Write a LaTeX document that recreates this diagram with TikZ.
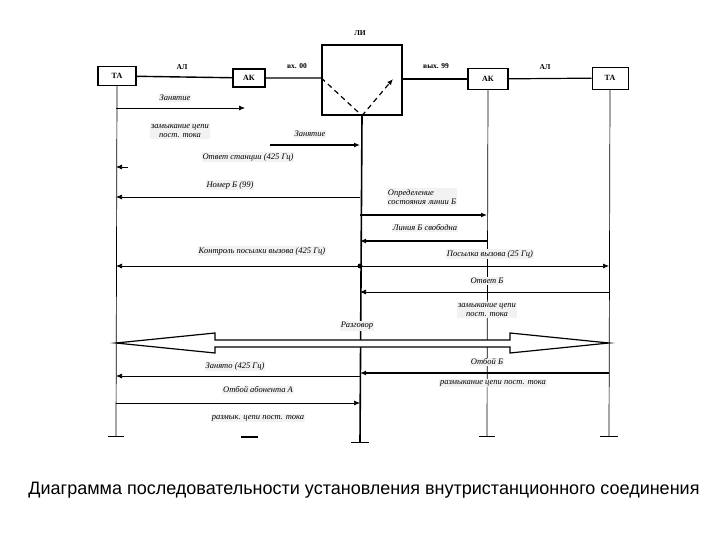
\documentclass[tikz,border=0pt]{standalone}
\usepackage{fontspec}
\setmainfont{Liberation Serif}
\newfontfamily\capfont{Liberation Sans}
\usetikzlibrary{arrows.meta}
\begin{document}
\begin{tikzpicture}[x=1pt,y=-1pt,
  box/.style={draw,line width=1.4pt,fill=white,font=\fontsize{8}{9}\selectfont\bfseries,inner sep=0pt},
  lbl/.style={font=\fontsize{8.5}{9.5}\selectfont\itshape,fill=black!5,inner sep=1pt,align=center},
  hl/.style={font=\fontsize{7.5}{9}\selectfont\bfseries,inner sep=1pt},
  msg/.style={-{Latex[length=6pt,width=5pt]},line width=0.7pt},
  tmsg/.style={-{Latex[length=6pt,width=5pt]},line width=1.6pt},
  life/.style={line width=0.7pt}]
\useasboundingbox (0,0) rectangle (720,540);
% boxes
\node[box,minimum width=38pt,minimum height=19pt] (ta1) at (117,76) {ТА};
\node[box,minimum width=32pt,minimum height=18pt] (ak1) at (249,78) {АК};
\node[box,minimum width=80pt,minimum height=70pt] (li) at (362,80) {};
\node[box,minimum width=40pt,minimum height=21pt] (ak2) at (488,79) {АК};
\node[box,minimum width=36pt,minimum height=22pt,line width=0.9pt] (ta2) at (610,78) {ТА};
\node[hl] (lil) at (360,33) {ЛИ};
\draw[line width=1.4pt] (ta1) -- (ak1) (ak1) -- (li.west|-ak1) ;
\draw[line width=1.4pt] (li.east|-ak2) -- (ak2);
\draw[line width=1.2pt] (ak2) -- (ta2);
\node[hl] (al1) at (182,67) {АЛ};
\node[hl] (in0) at (297,66) {вх. 00};
\node[hl] (out9) at (436,66) {вых. 99};
\node[hl] (al2) at (545,67) {АЛ};
% lifelines
\coordinate (b1) at (116,436); \coordinate (b3) at (360,442);
\coordinate (b4) at (487,436); \coordinate (b5) at (609,436);
\coordinate (lib) at (li.south);
\coordinate (vl) at (li.west|-ak1); \coordinate (vr) at (393,79);
\draw[dashed,line width=1.2pt,dash pattern=on 5pt off 4pt] (vl) -- (lib);
\draw[dashed,line width=1.2pt,dash pattern=on 5pt off 4pt,-{Latex[length=6pt,width=5pt]}] (lib) -- (vr);
\draw[life] (ta1.south) -- (b1);
\draw[line width=1.6pt] (lib) -- (b3);
\draw[life] (ak2.south) -- (b4);
\draw[life] (ta2.south) -- (b5);
\draw[line width=0.8pt] (108,436) -- (124,436);
\draw[line width=2pt] (241,437) -- (258,437);
\draw[line width=1pt] (351,442) -- (369,442);
\draw[line width=0.8pt] (479,436) -- (495,436);
\draw[line width=0.8pt] (600,436) -- (618,436);
% messages
\coordinate (m1a) at (116,108); \coordinate (m1b) at (245,108);
\draw[msg] (m1a) -- (m1b);
\node[lbl] (t1) at (175,98) {Занятие};
\node[lbl] (t2) at (180,131) {замыкание цепи\\пост. тока};
\coordinate (m3a) at (270,145); \coordinate (m3b) at (360,145);
\draw[tmsg] (m3a) -- (m3b);
\node[lbl] (t3) at (310,134) {Занятие};
\node[lbl] (t4) at (248,157) {Ответ станции (425 Гц)};
\coordinate (m4a) at (128,167); \coordinate (m4b) at (116,167);
\draw[msg] (m4a) -- (m4b);
\node[lbl] (t5) at (230,185) {Номер Б (99)};
\coordinate (m5a) at (360,197); \coordinate (m5b) at (116,197);
\draw[msg] (m5a) -- (m5b);
\node[lbl,align=left] (t6) at (422,197) {Определение\\состояния линии Б};
\coordinate (m6a) at (360,215); \coordinate (m6b) at (487,215);
\draw[tmsg] (m6a) -- (m6b);
\node[lbl] (t7) at (425,228) {Линия Б свободна};
\coordinate (m7a) at (487,241); \coordinate (m7b) at (360,241);
\draw[tmsg] (m7a) -- (m7b);
\node[lbl] (t8) at (262,251) {Контроль посылки вызова (425 Гц)};
\node[lbl] (t9) at (490,254) {Посылка вызова (25 Гц)};
\coordinate (m8) at (360,266); \coordinate (m8l) at (116,266); \coordinate (m8r) at (609,266);
\draw[msg] (m8) -- (m8l); \draw[msg] (m8) -- (m8r);
\fill (m8) circle (2.5pt);
\node[lbl] (t10) at (487,281) {Ответ Б};
\coordinate (m10a) at (609,292); \coordinate (m10b) at (360,292);
\draw[msg] (m10a) -- (m10b);
\node[lbl] (t11) at (487,310) {замыкание цепи\\пост. тока};
\node[lbl] (t12) at (357,326) {Разговор};
% big double arrow
\coordinate (da) at (116,343); \coordinate (db) at (609,343);
\draw[line width=1.2pt,fill=white] (da) -- (215,333) -- (215,340) -- (510,340) -- (510,333) -- (db) -- (510,353) -- (510,347) -- (215,347) -- (215,353) -- cycle;
\node[lbl] (t13) at (235,366) {Занято (425 Гц)};
\coordinate (m13a) at (360,376); \coordinate (m13b) at (116,376);
\draw[msg] (m13a) -- (m13b);
\node[lbl] (t14) at (487,362) {Отбой Б};
\coordinate (m14a) at (609,373); \coordinate (m14b) at (360,373);
\draw[tmsg] (m14a) -- (m14b);
\node[lbl] (t15) at (493,383) {размыкание цепи пост. тока};
\node[lbl] (t16) at (258,390) {Отбой абонента А};
\coordinate (m16a) at (116,403); \coordinate (m16b) at (360,403);
\draw[msg] (m16a) -- (m16b);
\node[lbl] (t17) at (258,418) {размык. цепи пост. тока};
\node[font=\capfont\fontsize{18}{21}\selectfont] (cap) at (364,490) {Диаграмма последовательности установления внутристанционного соединения};
\end{tikzpicture}
\end{document}
